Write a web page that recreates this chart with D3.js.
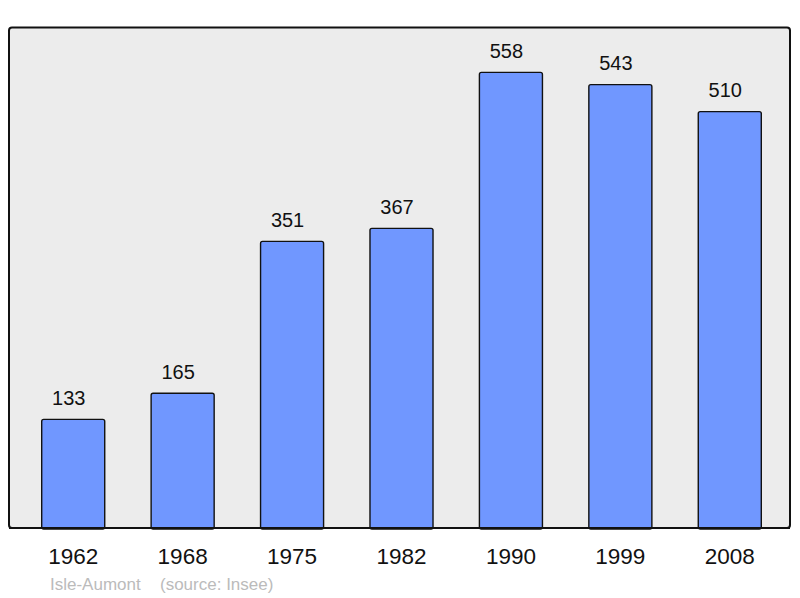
<!DOCTYPE html>
<html><head><meta charset="utf-8">
<script src="https://cdn.jsdelivr.net/npm/d3@7"></script>
<style>body{margin:0;background:#fff;} svg{display:block;}</style>
</head><body>
<svg id="c" width="800" height="598"></svg>
<script>
const years = ["1962","1968","1975","1982","1990","1999","2008"];
const population = [133,165,351,367,558,543,510];
const placeName = "Isle-Aumont";
const sourceText = "(source: Insee)";

const svg = d3.select("#c");
const font = "'Liberation Sans', Arial, sans-serif";
const frame = {x0: 9, x1: 790, y0: 27.5, y1: 528};

svg.append("rect").attr("x", frame.x0).attr("y", frame.y0)
  .attr("width", frame.x1 - frame.x0).attr("height", frame.y1 - frame.y0)
  .attr("rx", 3).attr("fill", "#ececec").attr("stroke", "#111").attr("stroke-width", 2);

const x = d3.scaleBand().domain(years).range([18.5, 784.5]).paddingInner(0.424).paddingOuter(0.212);
const y = d3.scaleLinear().domain([0, 613]).range([frame.y1, frame.y0]);

svg.selectAll("rect.bar").data(population).join("rect").attr("class","bar")
  .attr("x", (d,i) => x(years[i]))
  .attr("y", d => y(d))
  .attr("width", x.bandwidth())
  .attr("height", d => frame.y1 - y(d) + 1)
  .attr("rx", 2)
  .attr("fill", "#7097ff").attr("stroke", "#111").attr("stroke-width", 1.4);

svg.append("line").attr("x1", frame.x0).attr("x2", frame.x1).attr("y1", frame.y1).attr("y2", frame.y1)
  .attr("stroke", "#111").attr("stroke-width", 2);

svg.selectAll("text.val").data(population).join("text").attr("class","val")
  .attr("x", (d,i) => x(years[i]) + x.bandwidth()/2 - 4.5)
  .attr("y", d => y(d) - 14.5)
  .attr("text-anchor","middle").attr("font-family", font).attr("font-size", 20)
  .attr("fill", "#111").text(d => d);

svg.selectAll("text.yr").data(years).join("text").attr("class","yr")
  .attr("x", d => x(d) + x.bandwidth()/2)
  .attr("y", 564)
  .attr("text-anchor","middle").attr("font-family", font).attr("font-size", 22.5)
  .attr("fill", "#111").text(d => d);

svg.append("text").attr("x", 50).attr("y", 589.5).attr("font-family", font).attr("font-size", 17)
  .attr("fill", "#bbbbbb").text(placeName);
svg.append("text").attr("x", 160).attr("y", 589.5).attr("font-family", font).attr("font-size", 17)
  .attr("fill", "#bbbbbb").text(sourceText);
</script>
</body></html>
